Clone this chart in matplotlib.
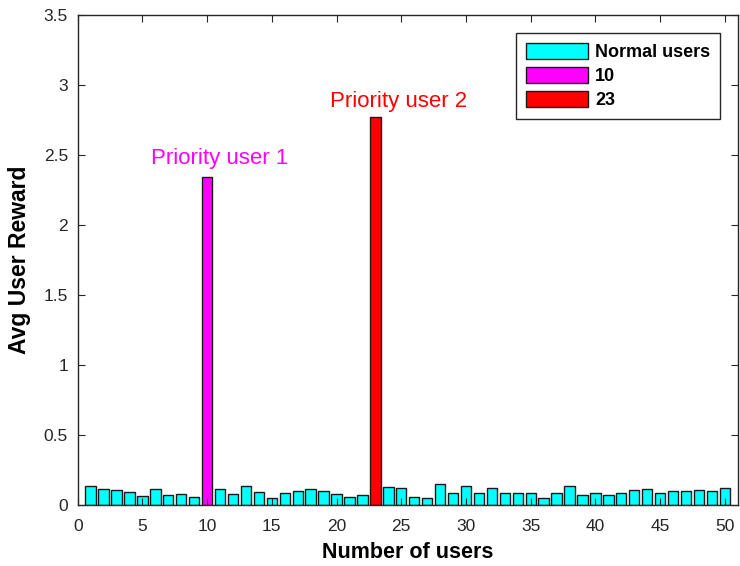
import numpy as np
import matplotlib.pyplot as plt

plt.rcParams['font.family'] = ['Liberation Sans', 'DejaVu Sans']

# 数据：每个用户的平均奖励
users = np.arange(1, 51)
normal_reward = [0.138, 0.110, 0.107, 0.093, 0.062, 0.114, 0.067, 0.076, 0.057, 0.0,
                 0.110, 0.076, 0.136, 0.093, 0.052, 0.083, 0.098, 0.112, 0.100, 0.079,
                 0.055, 0.071, 0.0, 0.128, 0.121, 0.057, 0.052, 0.150, 0.086, 0.138,
                 0.086, 0.124, 0.086, 0.088, 0.088, 0.048, 0.083, 0.136, 0.071, 0.086,
                 0.071, 0.083, 0.107, 0.114, 0.088, 0.100, 0.098, 0.107, 0.098, 0.124]
priority_users = [10, 23]
priority_reward = [2.34, 2.77]
priority_colors = ['#ff00ff', '#ff0000']
priority_names = ['Priority user 1', 'Priority user 2']
# 标注文字相对柱子的偏移 (x, y)
label_offset = [(1.0, 0.13), (1.8, 0.11)]

fig = plt.figure(figsize=(7.4, 5.66), dpi=100)
ax = fig.add_axes([0.105, 0.108, 0.892, 0.866])

ax.bar(users, normal_reward, width=0.8, color='#00ffff', edgecolor='#1a1a1a',
       linewidth=1.0, label='Normal users')
for u, r, c in zip(priority_users, priority_reward, priority_colors):
    ax.bar([u], [r], width=0.8, color=c, edgecolor='#1a1a1a', linewidth=1.0, label=str(u))

# 标注优先用户
for u, r, c, name, (dx, dy) in zip(priority_users, priority_reward, priority_colors,
                                   priority_names, label_offset):
    ax.text(u + dx, r + dy, name, color=c, fontsize=16, ha='center', va='center')

ax.set_xlim(0, 51)
ax.set_ylim(0, 3.5)
ax.set_xticks(np.arange(0, 51, 5))
ax.set_yticks(np.arange(0, 3.51, 0.5))
ax.set_yticklabels(['0', '0.5', '1', '1.5', '2', '2.5', '3', '3.5'])
ax.tick_params(direction='in', length=5, labelsize=12.5, colors='#262626', top=True, right=True)
ax.tick_params(axis='x', pad=10)
ax.tick_params(axis='y', pad=7)
for s in ax.spines.values():
    s.set_linewidth(1.0)
    s.set_color('#262626')

ax.set_xlabel('Number of users', fontsize=15.5, fontweight='bold', va='center')
ax.set_ylabel('Avg User Reward', fontsize=16.5, fontweight='bold', va='center')
ax.xaxis.set_label_coords(0.5, -0.098)
ax.yaxis.set_label_coords(-0.088, 0.5)

leg = ax.legend(loc='upper right', bbox_to_anchor=(0.973, 0.963), borderaxespad=0,
                fancybox=False, framealpha=1, edgecolor='#262626',
                handlelength=3.4, handleheight=1.0,
                prop={'weight': 'bold', 'size': 13}, labelspacing=0.33,
                handletextpad=0.4, borderpad=0.55)
leg.get_frame().set_linewidth(1.0)

plt.savefig('out.png', dpi=100)
